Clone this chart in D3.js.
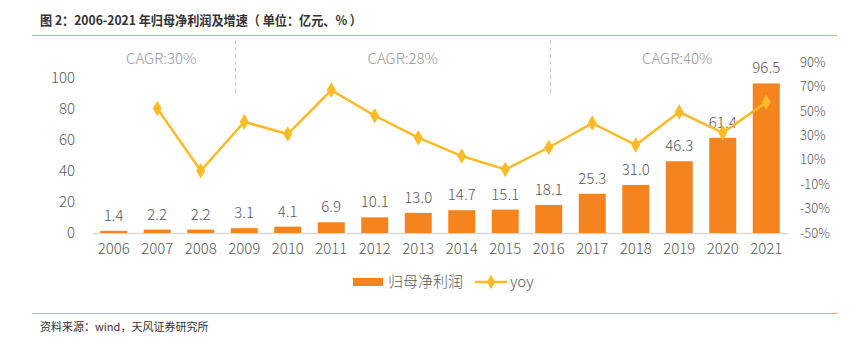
<!DOCTYPE html>
<html><head><meta charset="utf-8">
<script src="https://cdn.jsdelivr.net/npm/d3@7"></script>
<style>body{margin:0;background:#fff}svg{display:block}</style>
</head><body>
<script>
const years = ["2006","2007","2008","2009","2010","2011","2012","2013","2014","2015","2016","2017","2018","2019","2020","2021"];
const profit = [1.4,2.2,2.2,3.1,4.1,6.9,10.1,13.0,14.7,15.1,18.1,25.3,31.0,46.3,61.4,96.5];
const yoy = [null,52,1,41,31,67,46,28,13,2,20,40,22,49,32,57];
const leftTicks = [0,20,40,60,80,100];
const rightTicks = [-50,-30,-10,10,30,50,70,90];
const cagrLabels = ["CAGR:30%","CAGR:28%","CAGR:40%"];
const cagrAt = ["2007","2012","2019"];
const cagrDividers = ["2009","2016"];

const W=853,H=345;
const svg=d3.select("body").append("svg").attr("width",W).attr("height",H);
const font="'Noto Sans CJK SC','Noto Sans',sans-serif";
const txt="#595959";

svg.append("text").attr("x",40).attr("y",25).attr("font-family",font).attr("font-size",13).attr("font-weight","bold").attr("fill","#333")
  .style("white-space","pre").attr("textLength",322).attr("lengthAdjust","spacingAndGlyphs").text("图 2：2006-2021 年归母净利润及增速（ 单位：亿元、% ）");
svg.append("line").attr("x1",32).attr("x2",837).attr("y1",35.5).attr("y2",35.5).attr("stroke","#F3A367").attr("stroke-width",1.2);
svg.append("line").attr("x1",32).attr("x2",837).attr("y1",313.5).attr("y2",313.5).attr("stroke","#F3A367").attr("stroke-width",1.2);
svg.append("text").attr("x",40).attr("y",331).attr("font-family",font).attr("font-size",11).attr("fill","#333").text("资料来源：wind，天风证券研究所");

const x=d3.scaleBand().domain(years).range([92,788]).paddingInner(0.38).paddingOuter(0.19);
const cx = d => x(d)+x.bandwidth()/2;
const yL=d3.scaleLinear().domain([0,110]).range([233,62.5]);
const yR=d3.scaleLinear().domain([-50,90]).range([233,62]);

// dividers
const divOffsets=[-9,1];
cagrDividers.forEach((d,i)=>{
  const xx=Math.round(cx(d)+divOffsets[i])+0.5;
  svg.append("line").attr("x1",xx).attr("x2",xx).attr("y1",40).attr("y2",96).attr("stroke","#d0d0d0").attr("stroke-dasharray","4,3");
});
const cagrOff=[4,28,-2];
cagrLabels.forEach((t,i)=>{
  svg.append("text").attr("x",cx(cagrAt[i])+cagrOff[i]).attr("y",64).attr("text-anchor","middle").attr("font-family",font).attr("font-weight",300).attr("font-size",15).attr("fill","#999").text(t);
});

// axes
const gx=svg.append("g").attr("transform","translate(0,233)").call(d3.axisBottom(x).tickSize(0).tickPadding(10));
gx.select(".domain").attr("stroke","#d9d9d9").attr("stroke-width",1.5);
gx.selectAll("text").attr("font-family",font).attr("font-weight",300).attr("font-size",15).attr("fill",txt);
const gl=svg.append("g").attr("transform","translate(80,0)").call(d3.axisLeft(yL).tickValues(leftTicks).tickSize(0).tickPadding(5));
gl.select(".domain").remove();
gl.selectAll("text").attr("font-family",font).attr("font-weight",300).attr("font-size",15).attr("fill",txt);
const gr=svg.append("g").attr("transform","translate(797,0)").call(d3.axisRight(yR).tickValues(rightTicks).tickSize(0).tickPadding(3).tickFormat(d=>d+"%"));
gr.select(".domain").remove();
gr.selectAll("text").attr("font-family",font).attr("font-weight",300).attr("font-size",13).attr("fill",txt);

// bars
svg.append("g").selectAll("rect").data(profit).join("rect")
  .attr("x",(d,i)=>x(years[i])).attr("width",x.bandwidth())
  .attr("y",d=>yL(d)).attr("height",d=>233-yL(d)).attr("fill","#F5841F");
svg.append("g").selectAll("text").data(profit).join("text")
  .attr("x",(d,i)=>cx(years[i])).attr("y",d=>yL(d)-10)
  .attr("text-anchor","middle").attr("font-family",font).attr("font-weight",300).attr("font-size",15).attr("fill",txt)
  .text(d=>d.toFixed(1));

// line
const pts=yoy.map((v,i)=>({v,i})).filter(d=>d.v!==null);
const line=d3.line().x(d=>cx(years[d.i])).y(d=>yR(d.v));
svg.append("path").datum(pts).attr("d",line).attr("fill","none").attr("stroke","#FBBA26").attr("stroke-width",2.5);
svg.append("g").selectAll("path").data(pts).join("path")
  .attr("d",d3.symbol().type(d3.symbolDiamond).size(70))
  .attr("transform",d=>`translate(${cx(years[d.i])},${yR(d.v)})`).attr("fill","#FBBA26");

// legend
svg.append("rect").attr("x",353).attr("y",278).attr("width",30).attr("height",8).attr("fill","#F5841F");
svg.append("text").attr("x",388).attr("y",287).attr("font-family",font).attr("font-weight",300).attr("font-size",15).attr("fill",txt).text("归母净利润");
svg.append("line").attr("x1",475).attr("x2",507).attr("y1",282).attr("y2",282).attr("stroke","#FBBA26").attr("stroke-width",2.5);
svg.append("path").attr("d",d3.symbol().type(d3.symbolDiamond).size(60)).attr("transform","translate(491,282)").attr("fill","#FBBA26");
svg.append("text").attr("x",510).attr("y",287).attr("font-family",font).attr("font-weight",300).attr("font-size",15).attr("fill",txt).text("yoy");
</script>
</body></html>
